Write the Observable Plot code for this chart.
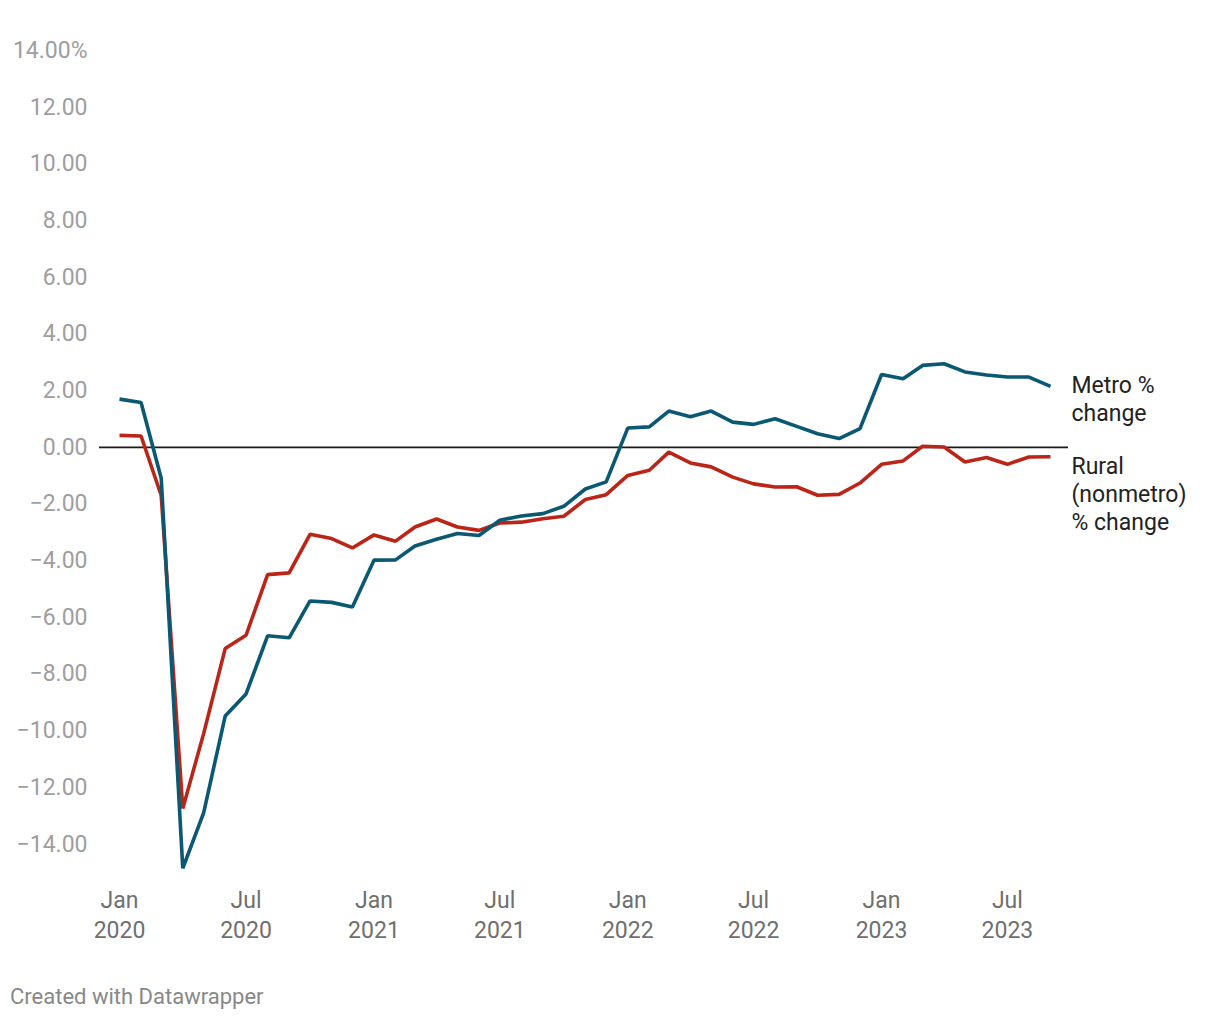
<!DOCTYPE html>
<html>
<head>
<meta charset="utf-8">
<script src="https://cdn.jsdelivr.net/npm/d3@7"></script>
<script src="https://cdn.jsdelivr.net/npm/@observablehq/plot@0.6"></script>
<style>
  body { margin: 0; background: #fff; font-family: Roboto, sans-serif; }
  #credit { font-family: Roboto, sans-serif; font-size: 22px; color: #888; margin: 24px 0 0 10px; line-height: 26px; }
</style>
</head>
<body>
<div id="chart"></div>
<div id="credit">Created with Datawrapper</div>
<script>
const months = [
  "2020-01","2020-02","2020-03","2020-04","2020-05","2020-06","2020-07","2020-08","2020-09","2020-10","2020-11","2020-12",
  "2021-01","2021-02","2021-03","2021-04","2021-05","2021-06","2021-07","2021-08","2021-09","2021-10","2021-11","2021-12",
  "2022-01","2022-02","2022-03","2022-04","2022-05","2022-06","2022-07","2022-08","2022-09","2022-10","2022-11","2022-12",
  "2023-01","2023-02","2023-03","2023-04","2023-05","2023-06","2023-07","2023-08","2023-09"
];
const metro = [
  1.70, 1.58, -1.09, -14.85, -12.9, -9.48, -8.70, -6.65, -6.72, -5.42, -5.47, -5.63,
  -3.98, -3.97, -3.48, -3.24, -3.04, -3.11, -2.57, -2.42, -2.34, -2.08, -1.47, -1.22,
  0.68, 0.72, 1.28, 1.08, 1.28, 0.89, 0.81, 1.01, 0.74, 0.48, 0.31, 0.66,
  2.57, 2.42, 2.89, 2.95, 2.66, 2.55, 2.48, 2.48, 2.15
];
const rural = [
  0.42, 0.40, -1.70, -12.74, -10.1, -7.10, -6.63, -4.49, -4.43, -3.07, -3.22, -3.55,
  -3.09, -3.31, -2.81, -2.53, -2.81, -2.93, -2.67, -2.64, -2.52, -2.43, -1.84, -1.67,
  -0.99, -0.81, -0.17, -0.55, -0.69, -1.05, -1.29, -1.40, -1.39, -1.69, -1.66, -1.26,
  -0.60, -0.48, 0.04, 0.01, -0.52, -0.36, -0.60, -0.34, -0.33
];
const seriesNames = ["Metro %\nchange", "Rural\n(nonmetro)\n% change"];
const yTicks = d3.range(-14, 15, 2);
const xTicks = ["2020-01","2020-07","2021-01","2021-07","2022-01","2022-07","2023-01","2023-07"];

const parse = d3.utcParse("%Y-%m");
const metroData = months.map((m, i) => ({date: parse(m), value: metro[i]}));
const ruralData = months.map((m, i) => ({date: parse(m), value: rural[i]}));

const fmt = d3.format(".2f");
const monthFmt = d3.utcFormat("%b");
const yearFmt = d3.utcFormat("%Y");

const chart = Plot.plot({
  width: 1220,
  height: 960,
  marginTop: 50,
  marginLeft: 99,
  marginRight: 152,
  marginBottom: 88,
  style: {fontFamily: "Roboto, sans-serif", background: "#fff"},
  x: {type: "utc", domain: [parse(months[0]), parse(months[months.length - 1])], insetLeft: 20, insetRight: 18},
  y: {domain: [-15, 14]},
  marks: [
    Plot.axisY({
      ticks: yTicks,
      tickSize: 0,
      tickPadding: 12,
      fontSize: 23,
      fill: "#9e9e9e",
      label: null,
      tickFormat: d => d === 14 ? fmt(d) + "%" : fmt(d)
    }),
    Plot.axisX({
      ticks: xTicks.map(parse),
      tickSize: 0,
      tickPadding: 14,
      fontSize: 23,
      lineHeight: 1.3,
      fill: "#6f6f6f",
      label: null,
      tickFormat: d => monthFmt(d) + "\n" + yearFmt(d)
    }),
    Plot.ruleY([0], {stroke: "#1a1a1a", strokeWidth: 1.6}),
    Plot.line(ruralData, {x: "date", y: "value", stroke: "#bb2518", strokeWidth: 3.6, strokeLinejoin: "miter", strokeLinecap: "butt"}),
    Plot.line(metroData, {x: "date", y: "value", stroke: "#0a5872", strokeWidth: 3.6, strokeLinejoin: "miter", strokeLinecap: "butt"}),
    Plot.text([metroData[metroData.length - 1]], {
      x: "date", y: "value", text: () => seriesNames[0],
      textAnchor: "start", lineAnchor: "top", dx: 21, dy: -13,
      fontSize: 23, lineHeight: 1.22, fill: "#222"
    }),
    Plot.text([ruralData[ruralData.length - 1]], {
      x: "date", y: "value", text: () => seriesNames[1],
      textAnchor: "start", lineAnchor: "top", dx: 21, dy: -3,
      fontSize: 23, lineHeight: 1.22, fill: "#222"
    })
  ]
});
document.getElementById("chart").append(chart);
</script>
</body>
</html>
